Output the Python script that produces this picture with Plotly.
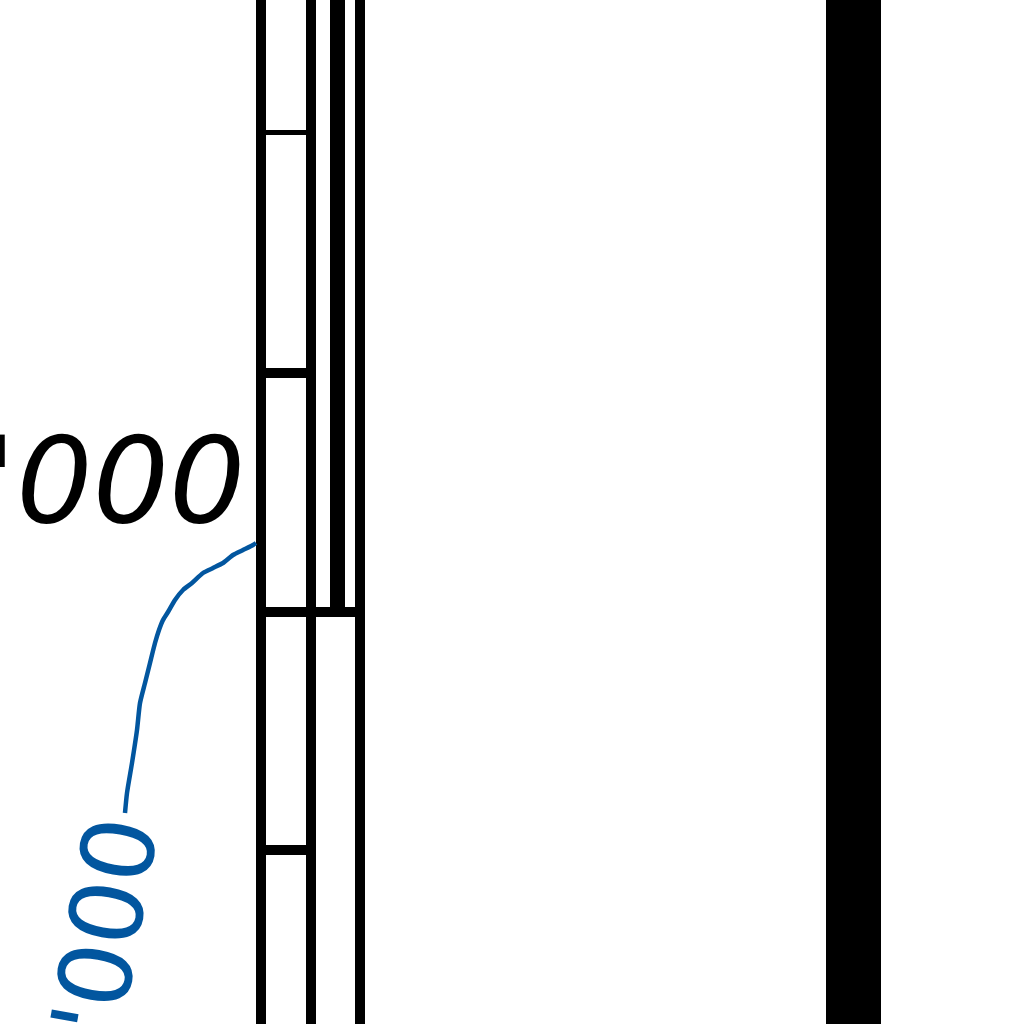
import plotly.graph_objects as go

# ---- data (pixel-space coordinates of this zoomed fragment) ----
rail_x = [261, 311, 360]            # thin vertical rails
rail_w = [10, 10, 10]
inner_rail_x = [337.5]               # thick inner rail that stops at the joint
inner_rail_end = [617]
inner_rail_w = [15]
tick_y = [132.5, 373, 612, 850]      # tick marks between first two rails
tick_w = [5, 10, 10, 10]
joint_y = [612]                      # cross bar joining all rails
block_x = [853.5]                    # heavy block on the right
block_w = [55]

leader_x = [256, 253, 243, 233, 223, 213, 203, 192, 183, 175, 168, 163, 159,
            155, 150, 145, 140, 137, 132, 127, 125]
leader_y = [543, 545, 550, 555, 563, 568, 573, 583, 590, 600, 612, 620, 630,
            643, 663, 683, 703, 730, 763, 793, 813]

black_label = "4'000"
blue_label = "3'000"

BLACK = "#000000"
BLUE = "#02569F"

fig = go.Figure()

for x, w in zip(rail_x, rail_w):
    fig.add_trace(go.Scatter(x=[x, x], y=[-20, 1044], mode="lines",
                             line=dict(color=BLACK, width=w), hoverinfo="skip"))
for x, e, w in zip(inner_rail_x, inner_rail_end, inner_rail_w):
    fig.add_trace(go.Scatter(x=[x, x], y=[-20, e], mode="lines",
                             line=dict(color=BLACK, width=w), hoverinfo="skip"))
for y, w in zip(tick_y, tick_w):
    fig.add_trace(go.Scatter(x=[rail_x[0], rail_x[1]], y=[y, y], mode="lines",
                             line=dict(color=BLACK, width=w), hoverinfo="skip"))
for y in joint_y:
    fig.add_trace(go.Scatter(x=[rail_x[0], rail_x[2]], y=[y, y], mode="lines",
                             line=dict(color=BLACK, width=10), hoverinfo="skip"))

fig.add_trace(go.Bar(x=block_x, y=[1100], base=[-40], width=block_w,
                     marker=dict(color=BLACK, line=dict(width=0)), hoverinfo="skip"))

fig.add_trace(go.Scatter(x=leader_x, y=leader_y, mode="lines",
                         line=dict(color=BLUE, width=4.5, shape="spline", smoothing=0.6),
                         hoverinfo="skip"))

fig.add_annotation(x=247, y=480, xref="x", yref="y", text=black_label,
                   showarrow=False, xanchor="right", yanchor="middle",
                   font=dict(family="DejaVu Sans", size=120, color=BLACK,
                             style="italic"))
fig.add_annotation(x=100, y=957.5, xref="x", yref="y", text=blue_label,
                   showarrow=False, xanchor="center", yanchor="middle",
                   textangle=-80,
                   font=dict(family="DejaVu Sans", size=100, color=BLUE))

fig.update_layout(
    width=1024, height=1024,
    margin=dict(l=0, r=0, t=0, b=0),
    paper_bgcolor="white", plot_bgcolor="white",
    showlegend=False,
    xaxis=dict(range=[0, 1024], visible=False, fixedrange=True),
    yaxis=dict(range=[1024, 0], visible=False, fixedrange=True),
    bargap=0,
)

fig.write_html("out.html", config={"displayModeBar": False},
               post_script="document.body.style.margin='0';document.body.style.overflow='hidden';")
